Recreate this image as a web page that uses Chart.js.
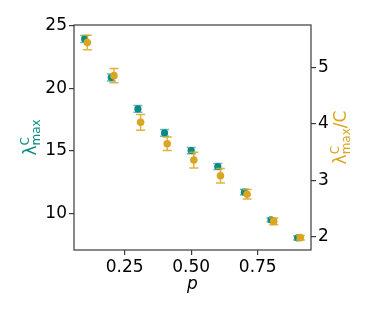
<!DOCTYPE html>
<html>
<head>
<meta charset="utf-8">
<script src="https://cdn.jsdelivr.net/npm/chart.js@4/dist/chart.umd.min.js"></script>
<style>
  html, body { margin: 0; padding: 0; background: #fff; }
  #wrap { width: 374px; height: 312px; }
</style>
</head>
<body>
<div id="wrap"><canvas id="c" width="374" height="312"></canvas></div>
<script>
// data
const pTeal = [0.1, 0.2, 0.3, 0.4, 0.5, 0.6, 0.7, 0.8, 0.9];
const pGold = [0.11, 0.21, 0.31, 0.41, 0.51, 0.61, 0.71, 0.81, 0.91];
const lambdaMax = [23.94, 20.85, 18.34, 16.42, 15.01, 13.73, 11.68, 9.46, 8.02];
const lambdaErr = [0.28, 0.28, 0.27, 0.27, 0.25, 0.24, 0.23, 0.16, 0.16];
const ratio = [5.45, 4.86, 4.03, 3.65, 3.36, 3.08, 2.75, 2.27, 1.98];
const ratioErr = [0.13, 0.125, 0.14, 0.12, 0.14, 0.13, 0.085, 0.06, 0.04];
const xTicks = [0.25, 0.5, 0.75];
const leftTicks = [10, 15, 20, 25];
const rightTicks = [2, 3, 4, 5];

const TEAL = '#0a8a85';
const GOLD = '#daa520';
const FRAME = '#3a3a3a';
const FONT = 'DejaVu Sans';

const errs = [
  { err: lambdaErr, color: 'rgba(10,138,133,0.6)', axis: 'y' },
  { err: ratioErr, color: 'rgba(218,165,32,0.85)', axis: 'y2' }
];

// error bars drawn right before each dataset's markers
const errorBars = {
  id: 'errorBars',
  beforeDatasetDraw(chart, args){
    const e = errs[args.index]; if(!e) return;
    const ctx = chart.ctx, xs = chart.scales.x, ys = chart.scales[e.axis];
    const ds = chart.data.datasets[args.index].data;
    ctx.save();
    ctx.strokeStyle = e.color; ctx.lineWidth = 1.5;
    ds.forEach((pt,i)=>{
      const x = xs.getPixelForValue(pt.x);
      const y1 = ys.getPixelForValue(pt.y + e.err[i]);
      const y2 = ys.getPixelForValue(pt.y - e.err[i]);
      ctx.beginPath();
      ctx.moveTo(x, y1); ctx.lineTo(x, y2);
      ctx.moveTo(x-4.5, y1); ctx.lineTo(x+4.5, y1);
      ctx.moveTo(x-4.5, y2); ctx.lineTo(x+4.5, y2);
      ctx.stroke();
    });
    ctx.restore();
  }
};

// rotated label like λ^C_max, parts: [text, size, shift]
function rotLabel(ctx, baseX, cy, parts, color){
  ctx.save();
  ctx.fillStyle = color;
  ctx.textBaseline = 'alphabetic';
  ctx.textAlign = 'left';
  let total = 0;
  const widths = parts.map(p=>{
    if(p.stack){
      const w = Math.max(...p.stack.map(s=>{ ctx.font = s.size+'px "'+FONT+'"'; return ctx.measureText(s.t).width; }));
      total += w; return w;
    }
    ctx.font = p.size+'px "'+FONT+'"';
    const w = ctx.measureText(p.t).width; total += w; return w;
  });
  ctx.translate(baseX, cy);
  ctx.rotate(-Math.PI/2);
  let x = -total/2;
  parts.forEach((p,i)=>{
    const list = p.stack || [p];
    list.forEach(s=>{
      ctx.font = s.size+'px "'+FONT+'"';
      ctx.fillText(s.t, x, s.dy || 0);
    });
    x += widths[i];
  });
  ctx.restore();
}

const frameAndTitles = {
  id: 'frameAndTitles',
  afterDraw(chart){
    const ctx = chart.ctx, a = chart.chartArea;
    ctx.save();
    ctx.strokeStyle = FRAME; ctx.lineWidth = 1.2;
    ctx.strokeRect(a.left, a.top, a.right-a.left, a.bottom-a.top);
    ctx.restore();
    const cy = (a.top + a.bottom)/2;
    rotLabel(ctx, 36, cy, [
      { t: 'λ', size: 17 },
      { stack: [ { t: 'C', size: 12, dy: -7 }, { t: 'max', size: 12, dy: 4 } ] }
    ], TEAL);
    rotLabel(ctx, 346, cy, [
      { t: 'λ', size: 17 },
      { stack: [ { t: 'C', size: 12, dy: -7 }, { t: 'max', size: 12, dy: 4 } ] },
      { t: '/C', size: 17 }
    ], GOLD);
    ctx.save();
    ctx.fillStyle = '#000';
    ctx.font = 'italic 17px "'+FONT+'"';
    ctx.textAlign = 'center';
    ctx.textBaseline = 'alphabetic';
    ctx.fillText('p', (a.left+a.right)/2, 289);
    ctx.restore();
  }
};

function fixedTicks(list){
  return s => { s.ticks = list.map(v=>({ value: v })); };
}
const tickFont = { family: FONT, size: 17 };
const gridOpts = { drawOnChartArea: false, drawTicks: true, tickLength: 5, color: FRAME, lineWidth: 1.2 };

new Chart(document.getElementById('c'), {
  type: 'scatter',
  data: {
    datasets: [
      { label: 'lambda', data: pTeal.map((x,i)=>({ x, y: lambdaMax[i] })), yAxisID: 'y',
        backgroundColor: TEAL, borderWidth: 0, pointRadius: 3.6, order: 2 },
      { label: 'ratio', data: pGold.map((x,i)=>({ x, y: ratio[i] })), yAxisID: 'y2',
        backgroundColor: GOLD, borderWidth: 0, pointRadius: 3.8, order: 1 }
    ]
  },
  options: {
    responsive: false,
    animation: false,
    layout: { padding: { top: 25, left: 0, right: 0, bottom: 0 } },
    plugins: { legend: { display: false }, tooltip: { enabled: false } },
    scales: {
      x: {
        type: 'linear', min: 0.06, max: 0.95,
        afterBuildTicks: fixedTicks(xTicks),
        afterFit: s => { s.height = 62; },
        ticks: { font: tickFont, color: '#000', padding: 2, maxRotation: 0, autoSkip: false,
                 callback: v => v.toFixed(2) },
        grid: gridOpts, border: { display: false }
      },
      y: {
        position: 'left', min: 7.05, max: 25.05,
        afterBuildTicks: fixedTicks(leftTicks),
        afterFit: s => { s.width = 74; },
        ticks: { font: tickFont, color: '#000', padding: 2 },
        grid: gridOpts, border: { display: false }
      },
      y2: {
        position: 'right', min: 1.76, max: 5.76,
        afterBuildTicks: fixedTicks(rightTicks),
        afterFit: s => { s.width = 63; },
        ticks: { font: tickFont, color: '#000', padding: 2 },
        grid: gridOpts, border: { display: false }
      }
    }
  },
  plugins: [errorBars, frameAndTitles]
});
</script>
</body>
</html>
